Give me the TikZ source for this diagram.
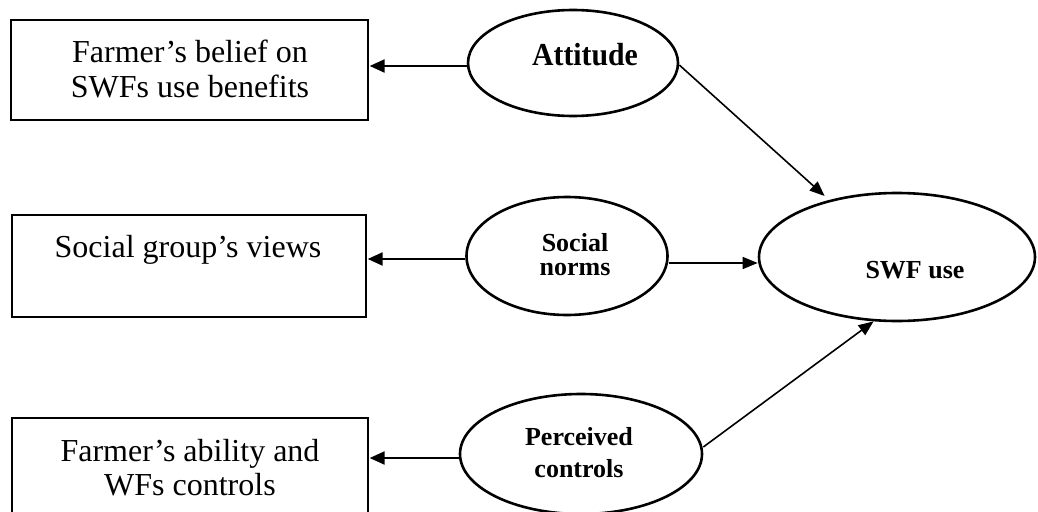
\documentclass[tikz,border=0pt]{standalone}
\usepackage{fontspec}
\setmainfont{Liberation Serif}
\newfontfamily\narrowserif[FakeStretch=0.93]{Liberation Serif}
\usetikzlibrary{shapes.geometric,arrows.meta}
\begin{document}
\begin{tikzpicture}[x=1pt,y=-1pt,
  box/.style={draw, line width=1.3pt, rectangle, inner sep=0pt},
  oval/.style={draw, ellipse, line width=2.6pt, inner sep=0pt},
  arrL/.style={-{Triangle[length=15pt,width=13pt]}, line width=2.2pt},
  arrR/.style={-{Triangle[length=15pt,width=12pt]}, line width=1.6pt},
  boxtext/.style={font=\fontsize{32}{35}\selectfont, align=center, inner sep=0pt},
  ovaltext/.style={align=center, inner sep=0pt}]
\useasboundingbox (0,0) rectangle (1038,511);
\clip (0,0) rectangle (1038,511);

% boxes
\node[box, minimum width=357pt, minimum height=100pt] (b1) at (189.5,70) {};
\node[boxtext, anchor=base] (b1t) at (190,97) {Farmer’s belief on\\SWFs use benefits};

\node[box, minimum width=354pt, minimum height=102pt] (b2) at (189,266) {};
\node[boxtext, anchor=base] (b2t) at (188,257) {Social group’s views};

\node[box, minimum width=356pt, minimum height=100pt] (b3) at (190,468) {};
\node[boxtext, font=\fontsize{32}{33.5}\selectfont, anchor=base] (b3t) at (190,495) {Farmer’s ability and\\WFs controls};

% ellipses
\node[oval, minimum width=210pt, minimum height=106pt] (att) at (573,63) {};
\node[ovaltext, font=\narrowserif\bfseries\fontsize{32}{34}\selectfont, anchor=base] (attT) at (585,66) {Attitude};

\node[oval, minimum width=201pt, minimum height=118pt] (soc) at (567,256) {};
\node[ovaltext, font=\bfseries\fontsize{26}{24}\selectfont, anchor=base] (socT) at (575,275) {Social\\norms};

\node[oval, minimum width=276pt, minimum height=128pt] (swf) at (897,257) {};
\node[ovaltext, font=\bfseries\fontsize{26}{30}\selectfont, anchor=base] (swfT) at (915,278) {SWF use};

\node[oval, minimum width=242pt, minimum height=120pt] (per) at (581,454) {};
\node[ovaltext, font=\bfseries\fontsize{26}{31.5}\selectfont, anchor=base] (perT) at (579,477) {Perceived\\controls};

% arrows to boxes
\draw[arrL, shorten >=1pt] ([yshift=-3pt]att.west) -- ([yshift=-3pt]att.west -| b1.east);
\draw[arrL, shorten >=1pt] ([yshift=-3pt]soc.west) -- ([yshift=-3pt]soc.west -| b2.east);
\draw[arrL, shorten >=1pt] ([yshift=-4pt]per.west) -- ([yshift=-4pt]per.west -| b3.east);

% arrows to SWF use
\draw[arrR, shorten >=6pt] ([yshift=-2pt]att.east) -- (swf.140);
\draw[arrR] ([yshift=-7pt]soc.east) -- ([yshift=-7pt]soc.east -| swf.west);
\draw[arrR] ([yshift=7pt]per.east) -- (swf.250);
\end{tikzpicture}
\end{document}
